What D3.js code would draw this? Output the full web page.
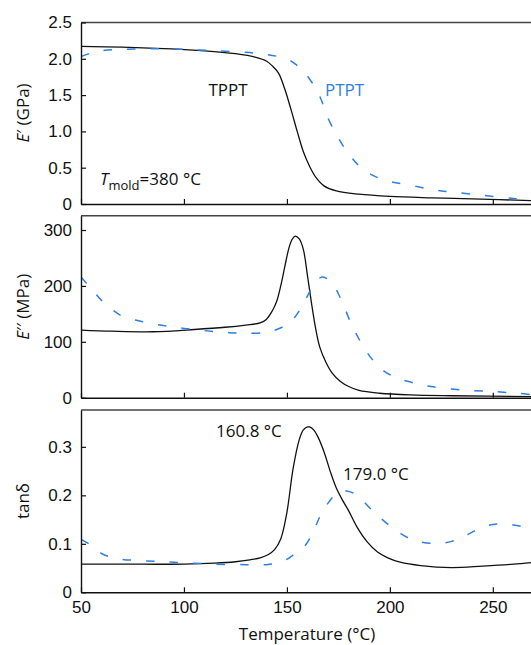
<!DOCTYPE html>
<html>
<head>
<meta charset="utf-8">
<script src="https://cdn.jsdelivr.net/npm/d3@7.9.0/dist/d3.min.js"></script>
<style>
  body { margin: 0; background: #fff; }
  svg { display: block; font-family: "Open Sans", sans-serif; }
</style>
</head>
<body>
<svg id="chart" width="531" height="645"></svg>
<script>
// E' (GPa)
const tStorageTPPT = [50, 70, 90, 110, 125, 135, 140, 143, 146, 149, 152, 155, 158, 161, 164, 168, 174, 185, 200, 220, 240, 270];
const storageTPPT = [2.17, 2.16, 2.14, 2.11, 2.07, 2.02, 1.97, 1.90, 1.80, 1.58, 1.30, 1.00, 0.72, 0.52, 0.37, 0.25, 0.18, 0.135, 0.105, 0.085, 0.07, 0.045];
const tStoragePTPT = [50, 55, 60, 70, 85, 100, 115, 130, 140, 146, 150, 154, 158, 162, 166, 170, 174, 178, 182, 186, 192, 200, 210, 220, 230, 245, 260, 270];
const storagePTPT = [2.03, 2.08, 2.11, 2.13, 2.14, 2.13, 2.11, 2.09, 2.06, 2.03, 2.0, 1.93, 1.83, 1.68, 1.48, 1.18, 0.96, 0.77, 0.62, 0.50, 0.39, 0.31, 0.26, 0.2, 0.165, 0.12, 0.075, 0.05];

// E'' (MPa)
const tLossTPPT = [50, 65, 85, 105, 120, 130, 137, 140, 143, 145, 147, 149, 151, 152.5, 154, 156, 158, 160, 162, 164, 166, 169, 172, 176, 180, 185, 195, 210, 230, 270];
const lossTPPT = [121, 119, 118, 122, 126, 130, 134, 140, 156, 172, 200, 235, 268, 283, 289, 284, 265, 218, 168, 123, 90, 63, 44, 29, 20, 13, 8, 5, 3.5, 2];
const tLossPTPT = [50, 55, 60, 65, 70, 80, 90, 100, 110, 120, 130, 140, 145, 150, 154, 158, 162, 165, 167, 169, 172, 175, 178, 181, 184, 188, 192, 197, 203, 210, 220, 235, 250, 262, 270];
const lossPTPT = [216, 195, 174, 158, 146, 136, 129, 124, 120, 117, 115, 117, 122, 131, 145, 168, 196, 211, 216, 214, 205, 186, 161, 134, 112, 86, 66, 48, 36, 28, 20, 14, 11, 8, 5];

// tan delta
const tTanTPPT = [50, 80, 100, 115, 125, 132, 137, 141, 144, 147, 150, 153, 156, 158, 160, 161, 163, 165, 168, 171, 174, 177, 180, 184, 189, 194, 199, 205, 215, 230, 245, 260, 270];
const tanTPPT = [0.058, 0.058, 0.058, 0.060, 0.063, 0.067, 0.071, 0.078, 0.088, 0.110, 0.165, 0.255, 0.315, 0.335, 0.341, 0.341, 0.335, 0.321, 0.290, 0.250, 0.215, 0.190, 0.168, 0.135, 0.104, 0.083, 0.071, 0.062, 0.055, 0.051, 0.054, 0.058, 0.062];
const tTanPTPT = [50, 55, 60, 65, 70, 80, 90, 100, 115, 130, 140, 146, 150, 154, 158, 162, 166, 170, 174, 177, 179, 182, 186, 190, 195, 200, 205, 210, 215, 220, 225, 230, 235, 240, 245, 250, 255, 260, 265, 270];
const tanPTPT = [0.109, 0.097, 0.080, 0.072, 0.068, 0.065, 0.063, 0.061, 0.058, 0.057, 0.057, 0.061, 0.068, 0.080, 0.092, 0.118, 0.156, 0.184, 0.203, 0.208, 0.209, 0.205, 0.193, 0.175, 0.155, 0.137, 0.122, 0.110, 0.104, 0.101, 0.101, 0.105, 0.113, 0.124, 0.134, 0.140, 0.141, 0.139, 0.135, 0.130];

const xTicks = [50, 100, 150, 200, 250];
const storageTicks = [0, 0.5, 1.0, 1.5, 2.0, 2.5];
const lossTicks = [0, 100, 200, 300];
const tanTicks = [0, 0.1, 0.2, 0.3];

const blue = '#2f7fe0';
const svg = d3.select('#chart');
const x = d3.scaleLinear().domain([50, 270]).range([81, 534]);

const panels = [
  { top: 22.5, bottom: 204, max: 2.5, ticks: storageTicks, fmt: d => d === 0 ? '0' : d.toFixed(1),
    series: [[tStorageTPPT, storageTPPT, '#111', null], [tStoragePTPT, storagePTPT, blue, '8.5,15']] },
  { top: 215.7, bottom: 397.7, max: 325.6, ticks: lossTicks, fmt: d => d,
    series: [[tLossTPPT, lossTPPT, '#111', null], [tLossPTPT, lossPTPT, blue, '8.5,15']] },
  { top: 410, bottom: 592.3, max: 0.376, ticks: tanTicks, fmt: d => d === 0 ? '0' : d.toFixed(1),
    series: [[tTanTPPT, tanTPPT, '#111', null], [tTanPTPT, tanPTPT, blue, '8.5,15']] }
];

panels.forEach((p, i) => {
  const y = d3.scaleLinear().domain([0, p.max]).range([p.bottom, p.top]);
  const g = svg.append('g');

  svg.append('clipPath').attr('id', 'clip' + i)
    .append('rect').attr('x', 81).attr('y', p.top).attr('width', 460).attr('height', p.bottom - p.top);

  // curves
  p.series.forEach(([ts, vs, color, dash]) => {
    const line = d3.line().x((d, k) => x(ts[k])).y(d => y(d)).curve(d3.curveCatmullRom.alpha(0.5));
    g.append('path')
      .attr('d', line(vs))
      .attr('clip-path', `url(#clip${i})`)
      .attr('fill', 'none')
      .attr('stroke', color)
      .attr('stroke-width', dash ? 1.5 : 1.3)
      .attr('stroke-dasharray', dash);
  });

  // top border
  g.append('line').attr('x1', 81).attr('x2', 531).attr('y1', p.top).attr('y2', p.top)
    .attr('stroke', '#444').attr('stroke-width', 1.4);

  const yAxis = g.append('g').attr('transform', 'translate(81,0)')
    .call(d3.axisLeft(y).tickValues(p.ticks).tickFormat(p.fmt).tickSizeInner(-5).tickSizeOuter(0).tickPadding(9));
  yAxis.selectAll('text').attr('font-size', 17).attr('fill', '#111');

  const xAxis = g.append('g').attr('transform', `translate(0,${p.bottom})`)
    .call(d3.axisBottom(x).tickValues(xTicks).tickSizeInner(-5).tickSizeOuter(0).tickPadding(9));
  xAxis.selectAll('text').attr('font-size', 17).attr('fill', '#111');
  if (i < 2) xAxis.selectAll('text').remove();

  [yAxis, xAxis].forEach(a => {
    a.select('.domain').attr('stroke', '#111').attr('stroke-width', 1.4);
    a.selectAll('.tick line').attr('stroke', '#111').attr('stroke-width', 1.2);
  });
});

// axis titles
function yTitle(cy, build) {
  const t = svg.append('text').attr('transform', `translate(29,${cy}) rotate(-90)`)
    .attr('text-anchor', 'middle').attr('font-size', 17).attr('fill', '#111');
  build(t);
}
yTitle(113, t => { t.append('tspan').attr('font-style', 'italic').text('E'); t.append('tspan').text('′ (GPa)'); });
yTitle(306.7, t => { t.append('tspan').attr('font-style', 'italic').text('E'); t.append('tspan').text('′′ (MPa)'); });
yTitle(501, t => t.text('tanδ'));

svg.append('text').attr('x', 307).attr('y', 640).attr('text-anchor', 'middle')
  .attr('font-size', 17).attr('fill', '#111').text('Temperature (°C)');

// annotations
svg.append('text').attr('x', 228).attr('y', 96).attr('text-anchor', 'middle')
  .attr('font-size', 17).attr('fill', '#111').text('TPPT');
svg.append('text').attr('x', 325).attr('y', 96)
  .attr('font-size', 17).attr('fill', blue).text('PTPT');

const tm = svg.append('text').attr('x', 100).attr('y', 185).attr('font-size', 17).attr('fill', '#111');
tm.append('tspan').attr('font-style', 'italic').text('T');
tm.append('tspan').attr('font-size', 13).attr('dy', 5).text('mold');
tm.append('tspan').attr('dy', -5).text('=380 °C');

svg.append('text').attr('x', 216).attr('y', 437)
  .attr('font-size', 17).attr('fill', '#111').text('160.8 °C');
svg.append('text').attr('x', 343).attr('y', 480)
  .attr('font-size', 17).attr('fill', '#111').text('179.0 °C');
</script>
</body>
</html>
